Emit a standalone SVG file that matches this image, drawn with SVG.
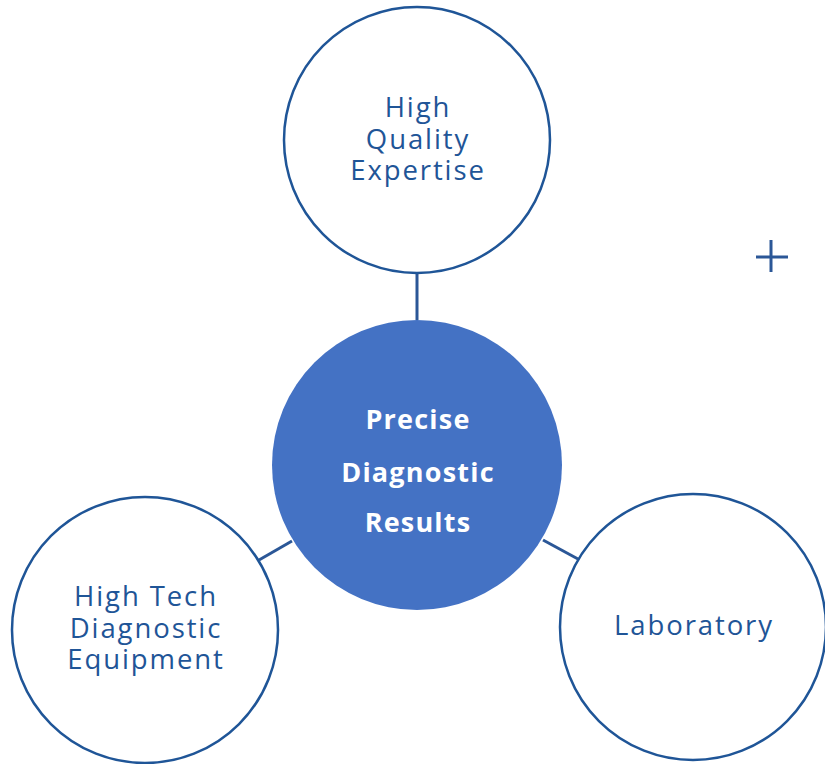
<svg xmlns="http://www.w3.org/2000/svg" width="825" height="764" viewBox="0 0 825 764">
<style>
.ring{fill:#fff;stroke:#1F5597;stroke-width:2.5}
.hub{fill:#4472C4}
.lbl{font-family:"Open Sans","Liberation Sans",sans-serif;font-size:27.5px;letter-spacing:1.9px;fill:#1F5597;text-anchor:middle}
.hl{font-family:"Open Sans","Liberation Sans",sans-serif;font-size:27px;letter-spacing:1.2px;font-weight:bold;fill:#fff;text-anchor:middle}
.con{stroke:#2B5797;stroke-width:3;fill:none}
</style>
<rect width="825" height="764" fill="#fff"/>
<g id="connectors">
<line class="con" x1="417" y1="273" x2="417" y2="320"/>
<line class="con" x1="259" y1="560" x2="292" y2="541"/>
<line class="con" x1="543" y1="540" x2="578" y2="559"/>
</g>
<g id="top">
<circle class="ring" cx="417" cy="140" r="133"/>
<text class="lbl" x="418" y="117">High</text>
<text class="lbl" x="418" y="149">Quality</text>
<text class="lbl" x="418" y="180">Expertise</text>
</g>
<g id="center">
<circle class="hub" cx="417" cy="465" r="145"/>
<text class="hl" x="418" y="429">Precise</text>
<text class="hl" x="418" y="482">Diagnostic</text>
<text class="hl" x="418" y="532">Results</text>
</g>
<g id="left">
<circle class="ring" cx="145" cy="630" r="133"/>
<text class="lbl" x="146" y="606">High Tech</text>
<text class="lbl" x="146" y="638">Diagnostic</text>
<text class="lbl" x="146" y="669">Equipment</text>
</g>
<g id="right">
<circle class="ring" cx="693" cy="627" r="133"/>
<text class="lbl" x="694" y="635">Laboratory</text>
</g>
<g id="plus">
<line class="con" x1="756" y1="257" x2="788" y2="257"/>
<line class="con" x1="771" y1="240" x2="771" y2="272"/>
</g>
</svg>
